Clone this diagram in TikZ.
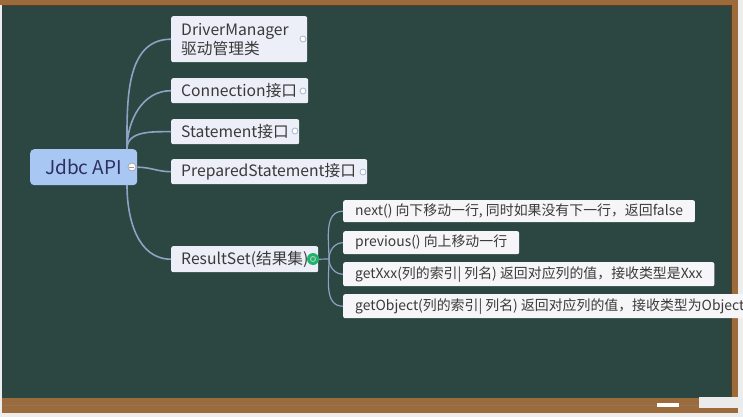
\documentclass[tikz,border=0pt]{standalone}
\usepackage{fontspec}
\setmainfont{Noto Sans CJK SC}
\usetikzlibrary{positioning}
\definecolor{BoardGreen}{HTML}{2C4742}
\definecolor{WoodBrown}{HTML}{9C6B3C}
\definecolor{WoodDark}{HTML}{5E3B1E}
\definecolor{PageGray}{HTML}{EDEDED}
\definecolor{RootBlue}{HTML}{A9C7F3}
\definecolor{TopicFill}{HTML}{ECEEF8}
\definecolor{LeafFill}{HTML}{F6F6F8}
\definecolor{BranchBlue}{HTML}{8DA2C4}
\definecolor{TextGray}{HTML}{3A3A3A}
\definecolor{FoldGreen}{HTML}{1DB56C}
\begin{document}
\begin{tikzpicture}[x=1pt,y=-1pt,
    topic/.style={fill=TopicFill, rounded corners=2pt, anchor=north west,
                  inner xsep=10pt, inner ysep=0pt, align=left, text=TextGray,
                  font=\fontsize{15.7}{19}\selectfont},
    leaf/.style={topic, fill=LeafFill, inner xsep=12pt,
                 font=\fontsize{13.9}{17}\selectfont},
    fold/.style={circle, draw=BranchBlue!80, fill=white, line width=0.8pt,
                 inner sep=0pt, minimum size=6pt},
    br/.style={BranchBlue, line width=1.6pt}]
  \clip (0,0) rectangle (743,417);
  % page, frame and board
  \fill[PageGray] (0,0) rectangle (743,417);
  \fill[WoodBrown] (0,0) rectangle (738,5);
  \fill[WoodBrown] (2,5) rectangle (738,413);
  \fill[BoardGreen] (2,6) rectangle (731,398);
  \draw[WoodDark,line width=1pt] (2,5.5) -- (731,5.5) -- (731,398);
  \draw[WoodDark!70,line width=0.8pt] (2,405) -- (738,405);
  \fill[white!92!black] (699,397) rectangle (743,408);
  \fill[white] (657,403) rectangle (679,407);

  % root
  \node[fill=RootBlue, rounded corners=4pt, anchor=north west, minimum width=107pt,
        minimum height=36pt, inner sep=0pt, text=TextGray!80!blue,
        font=\fontsize{19}{21}\selectfont] (jdbc) at (30,149) {Jdbc API\hspace{6pt}};
  \coordinate (jtop) at (127,149);
  \coordinate (jbot) at (127,185);

  % first level
  \node[topic, text width=116pt, minimum height=46pt] (dm) at (171,16)
    {DriverManager\\驱动管理类};
  \node[topic, text width=117pt, minimum height=25pt] (conn) at (171,78)
    {Connection接口};
  \node[topic, text width=108pt, minimum height=25pt] (stmt) at (171,119)
    {Statement接口};
  \node[topic, text width=176pt, minimum height=25pt] (pstmt) at (171,159)
    {PreparedStatement接口};
  \node[topic, text width=127pt, minimum height=26pt] (rs) at (171,246)
    {ResultSet(结果集)};
  \coordinate (rsfork) at (329,259);

  % second level
  \node[leaf, minimum height=22pt] (next) at (343,200)
    {next() 向下移动一行, 同时如果没有下一行，返回false};
  \node[leaf, minimum height=23pt] (prev) at (343,231)
    {previous() 向上移动一行};
  \node[leaf, minimum height=24pt] (getx) at (343,262)
    {getXxx(列的索引| 列名) 返回对应列的值，接收类型是Xxx};
  \node[leaf, minimum height=24pt] (geto) at (343,294)
    {getObject(列的索引| 列名) 返回对应列的值，接收类型为Object};

  % branches
  \draw[br] (jtop) to[out=90,in=180] (dm.west);
  \draw[br] (jtop) to[out=90,in=180] (conn.west);
  \draw[br] (jtop) to[out=90,in=180] (stmt.west);
  \draw[br] (jdbc.east) to[out=0,in=180] (pstmt.west);
  \draw[br] (jbot) to[out=-90,in=180] (rs.west);
  \draw[br,line width=1.2pt] (rs.east) -- (rsfork);
  \draw[br,line width=1.2pt] (rsfork) to[out=90,in=180] (next.west);
  \draw[br,line width=1.2pt] (rsfork) to[out=90,in=180] (prev.west);
  \draw[br,line width=1.2pt] (rsfork) to[out=-90,in=180] (getx.west);
  \draw[br,line width=1.2pt] (rsfork) to[out=-90,in=180] (geto.west);

  % fold markers
  \node[fold, minimum size=8pt, draw=gray!70] (jfold) at (132,167) {};
  \draw[gray!80,line width=1pt] (jfold.west) ++(1.5,0) -- ++(5,0);
  \node[fold] (dmfold) at (303,39) {};
  \node[fold] (connfold) at (303,91) {};
  \node[fold] (stmtfold) at (295,131) {};
  \node[fold] (pstmtfold) at (363,172) {};
  \node[circle, fill=FoldGreen, minimum size=12pt, inner sep=0pt] (rsfold) at (313,259) {};
  \draw[white!80!black,line width=0.8pt] (rsfold) circle (2.5pt);
\end{tikzpicture}
\end{document}
